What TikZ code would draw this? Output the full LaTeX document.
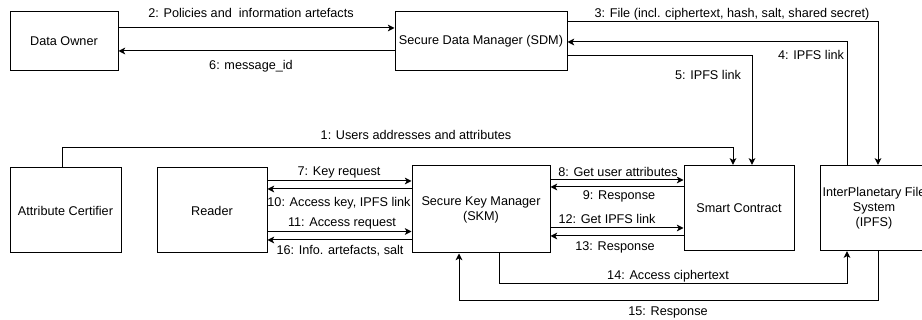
\documentclass[tikz,border=0pt]{standalone}
\usepackage{fontspec}
\setmainfont{Liberation Sans}
\usetikzlibrary{arrows.meta,positioning}
\tikzset{
  every picture/.style = {
    line width = 0.75pt,
    >={Stealth[length=5pt,width=5pt,inset=1.3pt]},
    x = 0.75pt,
    y = -0.75pt,
  }
  ,
  block/.style = {
    rectangle,
    draw,
    align = center,
    inner sep = 0pt,
    font = \fontsize{9.5}{11.4}\selectfont
  }
  , % labels of edges
  label-edge/.style = {
    anchor = base,
    inner sep = 0.5pt,
    font = \fontsize{9.5}{11.4}\selectfont
  }
}

\begin{document}
\begin{tikzpicture}
    \useasboundingbox (0,0) rectangle (922,320);

    \node [block, minimum width=81pt, minimum height=44.25pt] (owner) at (64,41.5) {Data Owner};
    \node [block, minimum width=129pt, minimum height=44.25pt] (sdm) at (481,41.5) {Secure Data Manager (SDM)};
    \node [block, minimum width=83.25pt, minimum height=63.75pt] (cert) at (65.5,210.5) {Attribute Certifier};
    \node [block, minimum width=82.5pt, minimum height=63.75pt] (reader) at (212,210.5) {Reader};
    \node [block, minimum width=103.5pt, minimum height=65.25pt] (skm) at (481,209.5) {Secure Key Manager\\(SKM)};
    \node [block, minimum width=82.5pt, minimum height=64pt] (sc) at (739,208) {Smart Contract};
    \node [block, minimum width=80.25pt, minimum height=64pt] (ipfs) at (874,208) {InterPlanetary File\\System\\(IPFS)};

    % owner <-> sdm
    \draw [->] (owner.east |- 0,28) -- (sdm.west |- 0,28);
    \draw [->] (sdm.west |- 0,51) -- (owner.east |- 0,51);
    \node [label-edge] (l2) at (251,17.5) {2: Policies and\ \ information artefacts};
    \node [label-edge] (l6) at (251,69.5) {6: message\_id};

    % sdm <-> ipfs, sdm -> contract
    \draw [->] (sdm.east |- 0,22) -| (878,0 |- ipfs.north);
    \draw [->] (847,0 |- ipfs.north) |- (sdm.east |- 0,42);
    \draw [->] (sdm.east |- 0,56) -| (752,0 |- sc.north);
    \node [label-edge] (l3) at (732,17.5) {3: File (incl. ciphertext, hash, salt, shared secret)};
    \node [label-edge] (l4) at (811,60) {4: IPFS link};
    \node [label-edge] (l5) at (708,80) {5: IPFS link};

    % certifier -> contract
    \draw [->] (62,0 |- cert.north) -- (62,148) -| (733,0 |- sc.north);
    \node [label-edge] (l1) at (416,140) {1: Users addresses and attributes};

    % reader <-> skm
    \draw [->] (reader.east |- 0,181) -- (skm.west |- 0,181);
    \draw [->] (skm.west |- 0,189) -- (reader.east |- 0,189);
    \draw [->] (reader.east |- 0,231.5) -- (skm.west |- 0,231.5);
    \draw [->] (skm.west |- 0,240) -- (reader.east |- 0,240);
    \node [label-edge] (l7) at (339,175.5) {7: Key request};
    \node [label-edge] (l10) at (339,206.5) {10: Access key, IPFS link};
    \node [label-edge] (l11) at (342,226.5) {11: Access request};
    \node [label-edge] (l16) at (340,254.5) {16: Info. artefacts, salt};

    % skm <-> contract
    \draw [->] (skm.east |- 0,180) -- (sc.west |- 0,180);
    \draw [->] (sc.west |- 0,187) -- (skm.east |- 0,187);
    \draw [->] (skm.east |- 0,228) -- (sc.west |- 0,228);
    \draw [->] (sc.west |- 0,236) -- (skm.east |- 0,236);
    \node [label-edge, fill=white] (l8) at (618,176.5) {8: Get user attributes};
    \node [label-edge] (l9) at (619,200) {9: Response};
    \node [label-edge] (l12) at (607,223.5) {12: Get IPFS link};
    \node [label-edge] (l13) at (615,251) {13: Response};

    % skm <-> ipfs
    \draw [->] (499,0 |- skm.south) -- (499,284) -| (847,0 |- ipfs.south);
    \draw [->] (878,0 |- ipfs.south) -- (878,301) -| (459,0 |- skm.south);
    \node [label-edge] (l14) at (668,280) {14: Access ciphertext};
    \node [label-edge] (l15) at (668,316) {15: Response};
\end{tikzpicture}
\end{document}
